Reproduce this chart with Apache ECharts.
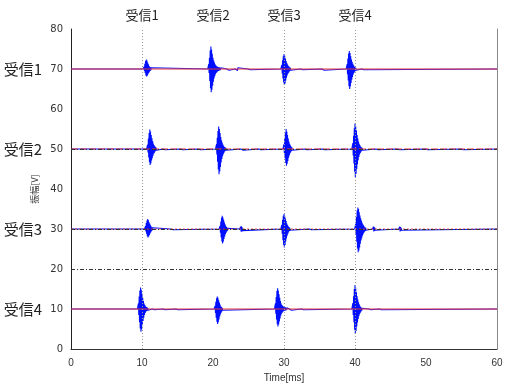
<!DOCTYPE html>
<html>
<head>
<meta charset="utf-8">
<script src="https://cdn.jsdelivr.net/npm/echarts@6/dist/echarts.min.js"></script>
<style>
  html, body { margin: 0; padding: 0; background: #fff; }
  #chart { width: 508px; height: 388px; }
</style>
</head>
<body>
<div id="chart"></div>
<script>
// 受信名と各トレースのオフセット [V]
const recvNames = ['受信1', '受信2', '受信3', '受信4'];
const offsets = [70, 50, 30, 10];
// 上側ラベルの位置 [ms]
const topTimes = [10, 20, 30, 40];
// 破線ガイド
const hGuides = [20, 30, 50];
const vGuides = [10, 30, 40];
// サンプル間隔 [ms]
const DT = 0.1;

// 各バーストの開始時刻 [ms] と包絡 [上, 下] (オフセットからの [V])
const r1Starts = [10.2, 19.3, 29.6, 38.8, 22.0, 23.2, 25.0, 32.4, 35.4, 41.0];
const r1Env = [
  [[0.2,-0.1],[0.6,-0.5],[1.3,-1.0],[2.0,-1.6],[2.4,-1.9],[2.1,-1.7],[1.6,-1.3],[1.2,-1.0],[0.8,-0.7],[0.5,-0.5],[0.4,-0.3],[0.3,-0.2],[0.2,-0.2]],
  [[0.3,-0.3],[1.2,-1.0],[2.8,-3.0],[4.6,-4.8],[5.6,-5.8],[4.9,-5.2],[3.8,-4.2],[2.8,-3.2],[2.1,-2.4],[1.6,-1.8],[1.2,-1.3],[0.9,-1.0],[0.7,-0.8],[0.6,-0.6],[0.5,-0.5],[0.4,-0.4],[0.4,-0.3],[0.3,-0.3],[0.3,-0.2],[0.2,-0.2]],
  [[0.3,-0.3],[1.0,-1.1],[2.2,-2.4],[3.2,-3.4],[3.75,-4.0],[3.3,-3.6],[2.6,-2.9],[2.0,-2.2],[1.5,-1.6],[1.1,-1.2],[0.8,-0.9],[0.6,-0.6],[0.4,-0.4],[0.3,-0.3],[0.2,-0.2]],
  [[0.3,-0.3],[1.2,-1.3],[2.6,-2.9],[3.9,-4.3],[4.5,-5.0],[4.0,-4.4],[3.2,-3.5],[2.4,-2.7],[1.8,-2.0],[1.3,-1.4],[0.9,-1.0],[0.6,-0.7],[0.4,-0.5],[0.3,-0.3],[0.2,-0.2]],
  [[0.3,-0.2],[0.5,-0.4],[0.3,-0.3]],
  [[0.2,-0.2],[0.4,-0.4],[0.5,-0.4],[0.3,-0.2]],
  [[0.2,-0.2],[0.3,-0.3],[0.2,-0.2]],
  [[0.2,-0.2],[0.4,-0.3],[0.2,-0.2]],
  [[0.3,-0.3],[0.5,-0.5],[0.3,-0.3]],
  [[0.2,-0.2],[0.3,-0.3],[0.2,-0.2]]
];

const r2Starts = [10.7, 20.4, 29.9, 39.6, 13.0, 15.5, 18.0, 24.0, 26.5, 33.0, 35.5, 43.0, 46.0, 50.0, 55.0];
const r2Env = [
  [[0.3,-0.2],[1.1,-0.9],[2.6,-2.1],[4.0,-3.3],[4.9,-4.0],[4.4,-3.6],[3.5,-2.9],[2.7,-2.3],[2.0,-1.7],[1.4,-1.2],[1.0,-0.9],[0.7,-0.6],[0.5,-0.4],[0.3,-0.3],[0.2,-0.2]],
  [[0.3,-0.3],[1.2,-1.4],[2.8,-3.2],[4.5,-5.1],[5.6,-6.3],[5.0,-5.6],[4.0,-4.5],[3.0,-3.4],[2.2,-2.5],[1.6,-1.8],[1.1,-1.3],[0.8,-0.9],[0.5,-0.6],[0.4,-0.4],[0.3,-0.3],[0.2,-0.2]],
  [[0.3,-0.2],[1.2,-1.0],[2.7,-2.3],[4.1,-3.5],[5.0,-4.2],[4.4,-3.7],[3.5,-3.0],[2.6,-2.2],[1.9,-1.6],[1.3,-1.1],[0.9,-0.8],[0.6,-0.5],[0.4,-0.3],[0.2,-0.2]],
  [[0.4,-0.4],[1.5,-1.6],[3.3,-3.6],[5.2,-5.7],[6.4,-7.0],[5.7,-6.2],[4.6,-5.0],[3.5,-3.8],[2.6,-2.8],[1.9,-2.0],[1.3,-1.4],[0.9,-1.0],[0.6,-0.7],[0.4,-0.4],[0.3,-0.3],[0.2,-0.2]],
  [[0.2,-0.2],[0.3,-0.3],[0.2,-0.2]],
  [[0.2,-0.2],[0.4,-0.3],[0.2,-0.2]],
  [[0.2,-0.2],[0.3,-0.3],[0.2,-0.2]],
  [[0.2,-0.2],[0.4,-0.4],[0.3,-0.3],[0.2,-0.2]],
  [[0.2,-0.2],[0.3,-0.3],[0.2,-0.2]],
  [[0.2,-0.2],[0.4,-0.4],[0.2,-0.2]],
  [[0.2,-0.2],[0.3,-0.3],[0.2,-0.2]],
  [[0.2,-0.2],[0.4,-0.3],[0.2,-0.2]],
  [[0.2,-0.2],[0.3,-0.3],[0.2,-0.2]],
  [[0.2,-0.2],[0.3,-0.2],[0.2,-0.2]],
  [[0.2,-0.2],[0.3,-0.2],[0.2,-0.2]]
];

const r3Starts = [10.4, 20.9, 29.6, 40.0, 14.1, 23.8, 33.6, 42.5, 46.2];
const r3Env = [
  [[0.2,-0.1],[0.7,-0.6],[1.5,-1.2],[2.1,-1.8],[2.5,-2.1],[2.2,-1.9],[1.7,-1.5],[1.3,-1.1],[0.9,-0.8],[0.6,-0.5],[0.4,-0.3],[0.3,-0.2],[0.2,-0.2]],
  [[0.2,-0.2],[0.8,-0.9],[1.9,-2.1],[2.8,-3.1],[3.3,-3.6],[2.9,-3.2],[2.3,-2.5],[1.7,-1.9],[1.2,-1.3],[0.8,-0.9],[0.5,-0.6],[0.3,-0.4],[0.2,-0.2]],
  [[0.3,-0.3],[1.0,-1.2],[2.3,-2.8],[3.3,-4.0],[3.75,-4.6],[3.3,-4.0],[2.6,-3.1],[2.0,-2.3],[1.4,-1.7],[1.0,-1.2],[0.7,-0.8],[0.5,-0.5],[0.3,-0.3],[0.2,-0.2]],
  [[0.3,-0.3],[1.3,-1.4],[3.0,-3.2],[4.6,-4.9],[5.4,-5.8],[5.0,-5.4],[4.2,-4.6],[3.4,-3.7],[2.7,-2.9],[2.1,-2.3],[1.6,-1.7],[1.2,-1.3],[0.9,-0.9],[0.6,-0.7],[0.4,-0.5],[0.3,-0.3],[0.2,-0.2]],
  [[0.2,-0.2],[0.4,-0.4],[0.2,-0.2]],
  [[0.3,-0.3],[0.6,-0.6],[0.7,-0.7],[0.4,-0.4]],
  [[0.2,-0.2],[0.4,-0.4],[0.2,-0.2]],
  [[0.3,-0.3],[0.6,-0.6],[0.5,-0.5],[0.3,-0.3]],
  [[0.3,-0.3],[0.6,-0.6],[0.5,-0.5],[0.3,-0.3]]
];

const r4Starts = [9.4, 20.2, 28.7, 39.6, 11.5, 13.0, 14.8, 30.8, 32.5, 42.0, 43.5];
const r4Env = [
  [[0.4,-0.4],[1.4,-1.5],[3.1,-3.3],[4.6,-4.9],[5.4,-5.7],[4.8,-5.1],[3.8,-4.0],[2.8,-3.0],[2.0,-2.2],[1.4,-1.5],[1.0,-1.0],[0.7,-0.7],[0.5,-0.5],[0.4,-0.4],[0.3,-0.3],[0.2,-0.2]],
  [[0.2,-0.2],[0.8,-1.0],[1.8,-2.2],[2.7,-3.2],[3.1,-3.75],[2.8,-3.3],[2.2,-2.6],[1.6,-1.9],[1.1,-1.3],[0.7,-0.9],[0.5,-0.6],[0.3,-0.3],[0.2,-0.2]],
  [[0.4,-0.3],[1.4,-1.2],[3.0,-2.6],[4.5,-3.8],[5.2,-4.4],[4.6,-3.9],[3.7,-3.1],[2.8,-2.4],[2.0,-1.7],[1.4,-1.2],[1.0,-0.9],[0.8,-0.7],[0.6,-0.5],[0.5,-0.4],[0.4,-0.4],[0.4,-0.3],[0.3,-0.3],[0.3,-0.2],[0.2,-0.2]],
  [[0.4,-0.4],[1.5,-1.5],[3.2,-3.3],[5.0,-5.2],[6.0,-6.25],[5.3,-5.5],[4.2,-4.4],[3.2,-3.4],[2.4,-2.5],[1.7,-1.8],[1.2,-1.3],[0.8,-0.9],[0.5,-0.6],[0.3,-0.4],[0.2,-0.2]],
  [[0.2,-0.2],[0.4,-0.3],[0.2,-0.2]],
  [[0.2,-0.2],[0.3,-0.3],[0.2,-0.2]],
  [[0.2,-0.2],[0.4,-0.4],[0.2,-0.2]],
  [[0.3,-0.3],[0.4,-0.4],[0.3,-0.3],[0.2,-0.2]],
  [[0.2,-0.2],[0.3,-0.3],[0.2,-0.2]],
  [[0.2,-0.2],[0.4,-0.4],[0.2,-0.2]],
  [[0.2,-0.2],[0.3,-0.3],[0.2,-0.2]]
];

const traceStarts = [r1Starts, r2Starts, r3Starts, r4Starts];
const traceEnvs = [r1Env, r2Env, r3Env, r4Env];

// 包絡から波形の点列を作る (上下を交互に結んで塗りつぶしに見せる)
function buildTrace(off, starts, envs) {
  const pts = [[0, off]];
  const order = starts.map((s, i) => i).sort((a, b) => starts[a] - starts[b]);
  order.forEach((i) => {
    const t0 = starts[i];
    pts.push([t0 - DT / 2, off]);
    envs[i].forEach((p, k) => {
      const t = t0 + k * DT;
      pts.push([t, off + p[0]]);
      pts.push([t + DT / 2, off + p[1]]);
    });
    pts.push([t0 + envs[i].length * DT, off]);
  });
  pts.push([60, off]);
  return pts;
}

// 基準線のスタイル (受信3は青と重なって紫っぽく見える)
const redStyles = ['solid', [7, 2], [2, 2], 'solid'];
const redOpacity = [1, 1, 0.8, 1];

const chart = echarts.init(document.getElementById('chart'));
const series = [];
offsets.forEach((off, idx) => {
  series.push({
    type: 'line',
    data: buildTrace(off, traceStarts[idx], traceEnvs[idx]),
    showSymbol: false,
    symbol: 'none',
    sampling: null,
    lineStyle: { color: '#0010ff', width: 1.1 },
    z: 3,
    silent: true,
  });
  series.push({
    type: 'line',
    data: [[0, off], [60, off]],
    showSymbol: false,
    symbol: 'none',
    lineStyle: { color: '#e8333a', width: 1, type: redStyles[idx], opacity: redOpacity[idx] },
    z: 4,
    silent: true,
  });
});
// ガイド線
series.push({
  type: 'line',
  data: [],
  silent: true,
  markLine: {
    silent: true,
    symbol: 'none',
    label: { show: false },
    animation: false,
    data: hGuides.map((v) => ({ yAxis: v, lineStyle: { color: '#333', width: 1, type: [4, 2, 1, 2] } }))
      .concat(vGuides.map((v) => ({ xAxis: v, lineStyle: { color: '#999', width: 1, type: [1, 2] } }))),
  },
  z: 2,
});

const option = {
  animation: false,
  grid: { left: 71, right: 11, top: 29, bottom: 39 },
  xAxis: [
    {
      type: 'value', min: 0, max: 60, interval: 10,
      axisLine: { show: false },
      axisTick: { show: false },
      splitLine: { show: false },
      axisLabel: { color: '#333', fontSize: 10, fontFamily: 'Liberation Sans', margin: 9 },
      name: 'Time[ms]', nameLocation: 'middle', nameGap: 23,
      nameTextStyle: { color: '#333', fontSize: 10, fontFamily: 'Liberation Sans' },
    },
    {
      type: 'value', min: 0, max: 60, interval: 10, position: 'top',
      axisLine: { show: true, lineStyle: { color: '#333', width: 1 } },
      axisTick: { show: false },
      splitLine: { show: false },
      axisLabel: {
        color: '#222', fontSize: 13, fontFamily: 'Noto Sans CJK JP', margin: 7,
        formatter: (v) => { const i = topTimes.indexOf(v); return i >= 0 ? recvNames[i] : ''; },
      },
    },
  ],
  yAxis: [
    {
      type: 'value', min: 0, max: 80, interval: 10,
      axisLine: { show: true, lineStyle: { color: '#222', width: 1 } },
      axisTick: { show: false },
      splitLine: { show: false },
      axisLabel: { color: '#333', fontSize: 10, fontFamily: 'DejaVu Sans', margin: 8 },
      name: '振幅[V]', nameLocation: 'middle', nameGap: 24,
      nameTextStyle: { color: '#333', fontSize: 9, fontFamily: 'Noto Sans CJK JP' },
    },
    {
      type: 'value', min: 0, max: 80, interval: 10, position: 'left',
      axisLine: { show: false },
      axisTick: { show: false },
      splitLine: { show: false },
      axisLabel: {
        color: '#222', fontSize: 15, fontFamily: 'Noto Sans CJK JP', margin: 29,
        formatter: (v) => { const i = offsets.indexOf(v); return i >= 0 ? recvNames[i] : ''; },
      },
    },
    {
      type: 'value', min: 0, max: 80, interval: 10, position: 'right',
      axisLine: { show: true, lineStyle: { color: '#888', width: 1 } },
      axisTick: { show: false },
      splitLine: { show: false },
      axisLabel: { show: false },
    },
  ],
  series: series,
};
chart.setOption(option);
</script>
</body>
</html>
